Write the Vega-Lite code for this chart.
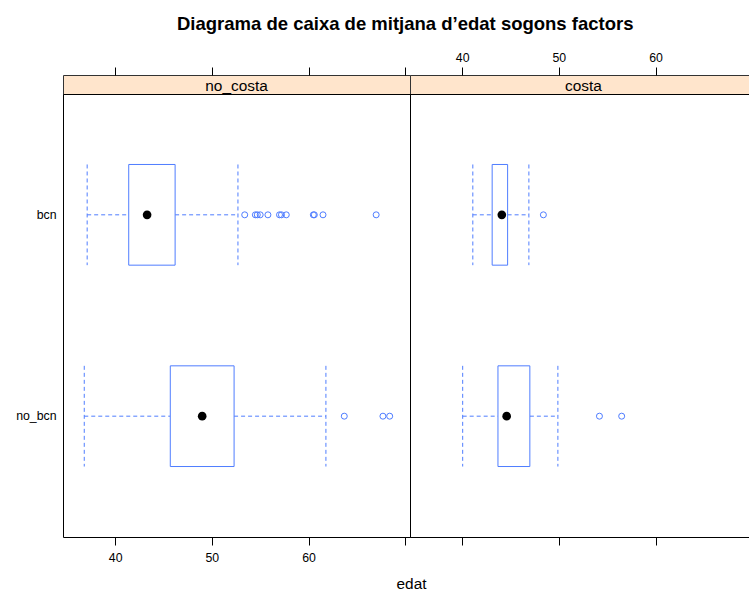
{
  "$schema": "https://vega.github.io/schema/vega-lite/v6.json",
  "background": "white",
  "padding": {"left": 15, "top": 15, "right": 5, "bottom": 5},
  "title": {"text": "Diagrama de caixa de mitjana d’edat sogons factors", "font": "Liberation Sans", "fontSize": 18.5, "fontWeight": "bold", "anchor": "start", "frame": "group", "dx": 114, "offset": 17, "color": "black"},
  "config": {
    "font": "Liberation Sans",
    "view": {"stroke": "black"},
    "axis": {"labelFont": "Liberation Sans", "labelFontSize": 12.3, "labelColor": "black", "tickSize": 8, "tickColor": "black", "domain": false, "grid": false, "titleFont": "Liberation Sans", "titleFontWeight": "normal", "titleColor": "black"}
  },
  "datasets": {
    "boxes": [
      {"panel": "no_costa", "grup": "bcn", "lower": 37.1, "q1": 41.4, "median": 43.3, "q3": 46.2, "upper": 52.7},
      {"panel": "no_costa", "grup": "no_bcn", "lower": 36.8, "q1": 45.7, "median": 49.0, "q3": 52.3, "upper": 61.8},
      {"panel": "costa", "grup": "bcn", "lower": 41.1, "q1": 43.1, "median": 44.1, "q3": 44.7, "upper": 46.9},
      {"panel": "costa", "grup": "no_bcn", "lower": 40.05, "q1": 43.7, "median": 44.6, "q3": 47.0, "upper": 49.9}
    ],
    "outliers": [
      {"panel": "no_costa", "grup": "bcn", "edat": 53.4},
      {"panel": "no_costa", "grup": "bcn", "edat": 54.5},
      {"panel": "no_costa", "grup": "bcn", "edat": 54.7},
      {"panel": "no_costa", "grup": "bcn", "edat": 55.0},
      {"panel": "no_costa", "grup": "bcn", "edat": 55.8},
      {"panel": "no_costa", "grup": "bcn", "edat": 57.0},
      {"panel": "no_costa", "grup": "bcn", "edat": 57.2},
      {"panel": "no_costa", "grup": "bcn", "edat": 57.7},
      {"panel": "no_costa", "grup": "bcn", "edat": 60.5},
      {"panel": "no_costa", "grup": "bcn", "edat": 60.6},
      {"panel": "no_costa", "grup": "bcn", "edat": 61.5},
      {"panel": "no_costa", "grup": "bcn", "edat": 67.0},
      {"panel": "no_costa", "grup": "no_bcn", "edat": 63.7},
      {"panel": "no_costa", "grup": "no_bcn", "edat": 67.7},
      {"panel": "no_costa", "grup": "no_bcn", "edat": 68.4},
      {"panel": "costa", "grup": "bcn", "edat": 48.4},
      {"panel": "costa", "grup": "no_bcn", "edat": 54.2},
      {"panel": "costa", "grup": "no_bcn", "edat": 56.5}
    ],
    "strips": [
      {"panel": "no_costa"},
      {"panel": "costa"}
    ]
  },
  "bounds": "flush",
  "spacing": 0,
  "columns": 2,
  "concat": [
    {
      "width": 347,
      "height": 19,
      "view": {"fill": "#FFE5CC", "stroke": "#333333"},
      "layer": [
        {
          "data": {"name": "boxes"},
          "mark": {"type": "rule", "opacity": 0},
          "encoding": {
            "x": {"field": "lower", "type": "quantitative", "scale": {"domain": [34.6, 70.5], "nice": false, "zero": false}, "axis": {"orient": "top", "values": [40, 50, 60, 70], "labels": false, "title": null}}
          }
        },
        {
          "data": {"name": "strips"},
          "transform": [{"filter": "datum.panel == 'no_costa'"}],
          "mark": {"type": "text", "font": "Liberation Sans", "fontSize": 15.4, "color": "black", "baseline": "middle", "dy": 1},
          "encoding": {"text": {"field": "panel", "type": "nominal"}}
        }
      ]
    },
    {
      "width": 347,
      "height": 19,
      "view": {"fill": "#FFE5CC", "stroke": "#333333"},
      "layer": [
        {
          "data": {"name": "boxes"},
          "mark": {"type": "rule", "opacity": 0},
          "encoding": {
            "x": {"field": "lower", "type": "quantitative", "scale": {"domain": [34.6, 70.5], "nice": false, "zero": false}, "axis": {"orient": "top", "values": [40, 50, 60, 70], "labelExpr": "datum.value == 70 ? '' : datum.label", "labelPadding": 3, "title": null}}
          }
        },
        {
          "data": {"name": "strips"},
          "transform": [{"filter": "datum.panel == 'costa'"}],
          "mark": {"type": "text", "font": "Liberation Sans", "fontSize": 15.4, "color": "black", "baseline": "middle", "dy": 1},
          "encoding": {"text": {"field": "panel", "type": "nominal"}}
        }
      ]
    },
    {
      "width": 347,
      "height": 443,
      "layer": [
        {
          "data": {"name": "boxes"},
          "transform": [{"filter": "datum.panel == 'no_costa'"}],
          "mark": {"type": "rule", "color": "#4f7dff", "strokeDash": [4, 3], "strokeWidth": 1},
          "encoding": {
            "x": {"field": "lower", "type": "quantitative", "scale": {"domain": [34.6, 70.5], "nice": false, "zero": false}, "axis": {"orient": "bottom", "values": [40, 50, 60, 70], "labelExpr": "datum.value == 70 ? '' : datum.label", "labelPadding": 6, "title": "edat", "titleFontSize": 15.4, "titleX": 348, "titlePadding": 13}},
            "x2": {"field": "q1"},
            "y": {"field": "grup", "type": "nominal", "scale": {"type": "band", "domain": ["bcn", "no_bcn"], "paddingInner": 0.5, "paddingOuter": 0.35}, "axis": {"ticks": false, "labelPadding": 7, "title": null}}
          }
        },
        {
          "data": {"name": "boxes"},
          "transform": [{"filter": "datum.panel == 'no_costa'"}],
          "mark": {"type": "rule", "color": "#4f7dff", "strokeDash": [4, 3], "strokeWidth": 1},
          "encoding": {
            "x": {"field": "q3", "type": "quantitative"},
            "x2": {"field": "upper"},
            "y": {"field": "grup", "type": "nominal"}
          }
        },
        {
          "data": {"name": "boxes"},
          "transform": [{"filter": "datum.panel == 'no_costa'"}],
          "mark": {"type": "rule", "color": "#4f7dff", "strokeDash": [4, 3], "strokeWidth": 1},
          "encoding": {
            "x": {"field": "lower", "type": "quantitative"},
            "y": {"field": "grup", "type": "nominal", "bandPosition": 0},
            "y2": {"field": "grup", "bandPosition": 1}
          }
        },
        {
          "data": {"name": "boxes"},
          "transform": [{"filter": "datum.panel == 'no_costa'"}],
          "mark": {"type": "rule", "color": "#4f7dff", "strokeDash": [4, 3], "strokeWidth": 1},
          "encoding": {
            "x": {"field": "upper", "type": "quantitative"},
            "y": {"field": "grup", "type": "nominal", "bandPosition": 0},
            "y2": {"field": "grup", "bandPosition": 1}
          }
        },
        {
          "data": {"name": "boxes"},
          "transform": [{"filter": "datum.panel == 'no_costa'"}],
          "mark": {"type": "rect", "fill": "white", "stroke": "#4f7dff", "strokeWidth": 1},
          "encoding": {
            "x": {"field": "q1", "type": "quantitative"},
            "x2": {"field": "q3"},
            "y": {"field": "grup", "type": "nominal"}
          }
        },
        {
          "data": {"name": "boxes"},
          "transform": [{"filter": "datum.panel == 'no_costa'"}],
          "mark": {"type": "point", "filled": true, "color": "black", "size": 75, "opacity": 1},
          "encoding": {
            "x": {"field": "median", "type": "quantitative"},
            "y": {"field": "grup", "type": "nominal"}
          }
        },
        {
          "data": {"name": "outliers"},
          "transform": [{"filter": "datum.panel == 'no_costa'"}],
          "mark": {"type": "point", "filled": false, "color": "#4f7dff", "size": 36, "strokeWidth": 1, "opacity": 1},
          "encoding": {
            "x": {"field": "edat", "type": "quantitative"},
            "y": {"field": "grup", "type": "nominal"}
          }
        }
      ]
    },
    {
      "width": 347,
      "height": 443,
      "layer": [
        {
          "data": {"name": "boxes"},
          "transform": [{"filter": "datum.panel == 'costa'"}],
          "mark": {"type": "rule", "color": "#4f7dff", "strokeDash": [4, 3], "strokeWidth": 1},
          "encoding": {
            "x": {"field": "lower", "type": "quantitative", "scale": {"domain": [34.6, 70.5], "nice": false, "zero": false}, "axis": {"orient": "bottom", "values": [40, 50, 60, 70], "labels": false, "title": null}},
            "x2": {"field": "q1"},
            "y": {"field": "grup", "type": "nominal", "scale": {"type": "band", "domain": ["bcn", "no_bcn"], "paddingInner": 0.5, "paddingOuter": 0.35}, "axis": null}
          }
        },
        {
          "data": {"name": "boxes"},
          "transform": [{"filter": "datum.panel == 'costa'"}],
          "mark": {"type": "rule", "color": "#4f7dff", "strokeDash": [4, 3], "strokeWidth": 1},
          "encoding": {
            "x": {"field": "q3", "type": "quantitative"},
            "x2": {"field": "upper"},
            "y": {"field": "grup", "type": "nominal"}
          }
        },
        {
          "data": {"name": "boxes"},
          "transform": [{"filter": "datum.panel == 'costa'"}],
          "mark": {"type": "rule", "color": "#4f7dff", "strokeDash": [4, 3], "strokeWidth": 1},
          "encoding": {
            "x": {"field": "lower", "type": "quantitative"},
            "y": {"field": "grup", "type": "nominal", "bandPosition": 0},
            "y2": {"field": "grup", "bandPosition": 1}
          }
        },
        {
          "data": {"name": "boxes"},
          "transform": [{"filter": "datum.panel == 'costa'"}],
          "mark": {"type": "rule", "color": "#4f7dff", "strokeDash": [4, 3], "strokeWidth": 1},
          "encoding": {
            "x": {"field": "upper", "type": "quantitative"},
            "y": {"field": "grup", "type": "nominal", "bandPosition": 0},
            "y2": {"field": "grup", "bandPosition": 1}
          }
        },
        {
          "data": {"name": "boxes"},
          "transform": [{"filter": "datum.panel == 'costa'"}],
          "mark": {"type": "rect", "fill": "white", "stroke": "#4f7dff", "strokeWidth": 1},
          "encoding": {
            "x": {"field": "q1", "type": "quantitative"},
            "x2": {"field": "q3"},
            "y": {"field": "grup", "type": "nominal"}
          }
        },
        {
          "data": {"name": "boxes"},
          "transform": [{"filter": "datum.panel == 'costa'"}],
          "mark": {"type": "point", "filled": true, "color": "black", "size": 75, "opacity": 1},
          "encoding": {
            "x": {"field": "median", "type": "quantitative"},
            "y": {"field": "grup", "type": "nominal"}
          }
        },
        {
          "data": {"name": "outliers"},
          "transform": [{"filter": "datum.panel == 'costa'"}],
          "mark": {"type": "point", "filled": false, "color": "#4f7dff", "size": 36, "strokeWidth": 1, "opacity": 1},
          "encoding": {
            "x": {"field": "edat", "type": "quantitative"},
            "y": {"field": "grup", "type": "nominal"}
          }
        }
      ]
    }
  ]
}
